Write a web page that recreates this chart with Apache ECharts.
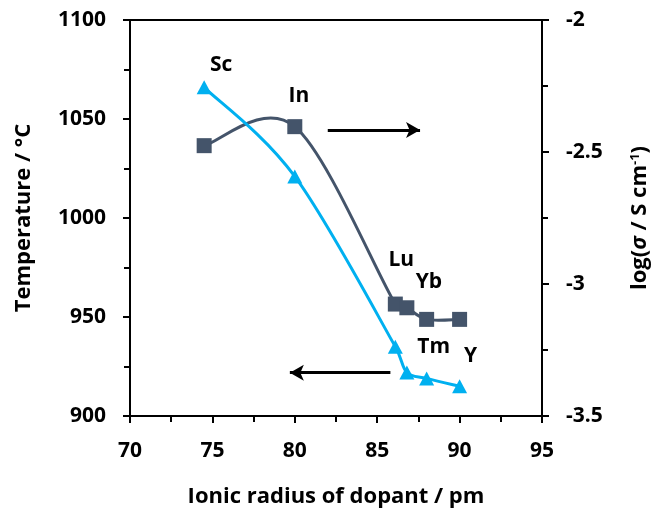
<!DOCTYPE html>
<html>
<head>
<meta charset="utf-8">
<script src="https://cdn.jsdelivr.net/npm/echarts@6/dist/echarts.min.js"></script>
<style>
  html, body { margin: 0; padding: 0; background: #fff; }
  #chart { width: 655px; height: 511px; }
</style>
</head>
<body>
<div id="chart"></div>
<script>
// Dopant ionic radius (pm) vs. transition temperature and conductivity
const dopants = ['Sc', 'In', 'Lu', 'Yb', 'Tm', 'Y'];
const radius = [74.5, 80.0, 86.1, 86.8, 88.0, 90.0];
const temperature = [1066, 1021, 935, 922, 919, 915];              // °C, left axis
const logSigma = [-2.476, -2.404, -3.076, -3.090, -3.134, -3.134]; // log(σ / S cm-1), right axis

// Which series carries each dopant's name label, and its offset from the marker centre
const labelOn = ['temp', 'cond', 'cond', 'cond', 'temp', 'temp'];
const labelOffset = [[17, -22], [4, -31], [6, -44], [22, -26], [7, -31], [11, -30]];

// Arrows pointing toward the axis each curve belongs to
const condArrow = { from: [82.0, -2.417], to: [87.6, -2.417] };
const tempArrow = { from: [85.8, 921.9], to: [79.7, 921.9] };

const FONT = 'Open Sans';
const BLUE = '#00B0F0';
const SLATE = '#44546A';

function markerData(ys, key) {
  return radius.map((x, i) => {
    const p = { value: [x, ys[i]] };
    if (labelOn[i] === key) {
      p.label = {
        show: true,
        formatter: dopants[i],
        position: 'inside',
        offset: labelOffset[i],
        fontFamily: FONT, fontWeight: 'bold', fontSize: 21, color: '#000'
      };
    }
    return p;
  });
}

// Smoothed curve through the points: Catmull-Rom style cubic Béziers,
// with each control leg kept within half of its segment to avoid loops
function curveSeries(ys, axisIndex, color) {
  const n = radius.length;
  const clamp = k => Math.max(0, Math.min(n - 1, k));
  function leg(from, dx, dy, segLen) {
    const len = Math.hypot(dx, dy);
    const maxLen = segLen * 0.5;
    const s = len > maxLen && len > 0 ? maxLen / len : 1;
    return [from[0] + dx * s, from[1] + dy * s];
  }
  return {
    type: 'custom', yAxisIndex: axisIndex, silent: true, z: 1,
    data: radius.map((x, i) => [x, ys[i]]),
    renderItem: (params, api) => {
      const i = params.dataIndex;
      if (i >= n - 1) return null;
      const P = k => api.coord([radius[clamp(k)], ys[clamp(k)]]);
      const p0 = P(i - 1), p1 = P(i), p2 = P(i + 1), p3 = P(i + 2);
      const t = 1 / 6;
      const seg = Math.hypot(p2[0] - p1[0], p2[1] - p1[1]);
      const c1 = leg(p1, (p2[0] - p0[0]) * t, (p2[1] - p0[1]) * t, seg);
      const c2 = leg(p2, -(p3[0] - p1[0]) * t, -(p3[1] - p1[1]) * t, seg);
      return {
        type: 'bezierCurve',
        shape: { x1: p1[0], y1: p1[1], x2: p2[0], y2: p2[1], cpx1: c1[0], cpy1: c1[1], cpx2: c2[0], cpy2: c2[1] },
        style: { stroke: color, lineWidth: 3, fill: null, lineCap: 'round' }
      };
    }
  };
}

const tickText = { fontFamily: FONT, fontWeight: 'bold', fontSize: 21, color: '#000' };
const nameText = { fontFamily: FONT, fontWeight: 'bold', fontSize: 22, color: '#000' };
const axisLine = { show: true, onZero: false, lineStyle: { color: '#000', width: 2 } };
const tick = { show: true, length: 7, lineStyle: { color: '#000', width: 2 } };
const minorTick = { show: true, splitNumber: 2, length: 6, lineStyle: { color: '#000', width: 2 } };

const chart = echarts.init(document.getElementById('chart'), null, { renderer: 'canvas' });
chart.setOption({
  animation: false,
  backgroundColor: '#fff',
  grid: {
    left: 130, right: 113, top: 20, bottom: 95,
    containLabel: false, outerBoundsMode: 'none',
    show: true, borderColor: '#000', borderWidth: 2, backgroundColor: 'transparent'
  },
  xAxis: {
    type: 'value', min: 70, max: 95, interval: 5,
    name: 'Ionic radius of dopant / pm', nameLocation: 'middle', nameGap: 70,
    nameTextStyle: nameText,
    axisLine: axisLine, axisTick: tick, minorTick: minorTick,
    axisLabel: Object.assign({ margin: 25 }, tickText),
    splitLine: { show: false }
  },
  yAxis: [
    {
      type: 'value', min: 900, max: 1100, interval: 50,
      name: 'Temperature / °C', nameLocation: 'middle', nameGap: 95,
      nameTextStyle: nameText,
      axisLine: axisLine, axisTick: tick, minorTick: minorTick,
      axisLabel: Object.assign({ margin: 24, formatter: v => String(v) }, tickText),
      splitLine: { show: false }
    },
    {
      type: 'value', min: -3.5, max: -2, interval: 0.5, position: 'right',
      name: 'log({i|σ} / S cm{sup|-1})', nameLocation: 'middle', nameGap: 87, nameRotate: 90,
      nameTextStyle: Object.assign({
        rich: {
          i: { fontFamily: FONT, fontWeight: 'bold', fontStyle: 'italic', fontSize: 22, color: '#000' },
          sup: { fontFamily: FONT, fontWeight: 'bold', fontSize: 13, color: '#000', verticalAlign: 'top', padding: [0, 0, 9, 0] }
        }
      }, nameText),
      axisLine: axisLine, axisTick: tick, minorTick: minorTick,
      axisLabel: Object.assign({ margin: 24, formatter: v => String(v) }, tickText),
      splitLine: { show: false }
    }
  ],
  series: [
    curveSeries(logSigma, 1, SLATE),
    curveSeries(temperature, 0, BLUE),
    {
      name: 'Conductivity', type: 'scatter', yAxisIndex: 1,
      data: markerData(logSigma, 'cond'),
      symbol: 'rect', symbolSize: 15,
      itemStyle: { color: SLATE, opacity: 1 },
      markLine: {
        silent: true, symbol: ['none', 'arrow'], symbolSize: [12, 14],
        label: { show: false },
        lineStyle: { color: '#000', width: 3, type: 'solid' },
        data: [[{ coord: condArrow.from }, { coord: condArrow.to }]]
      },
      z: 3
    },
    {
      name: 'Temperature', type: 'scatter', yAxisIndex: 0,
      data: markerData(temperature, 'temp'),
      symbol: 'triangle', symbolSize: [15, 14],
      itemStyle: { color: BLUE, opacity: 1 },
      markLine: {
        silent: true, symbol: ['none', 'arrow'], symbolSize: [12, 14],
        label: { show: false },
        lineStyle: { color: '#000', width: 3, type: 'solid' },
        data: [[{ coord: tempArrow.from }, { coord: tempArrow.to }]]
      },
      z: 4
    }
  ]
});
</script>
</body>
</html>
